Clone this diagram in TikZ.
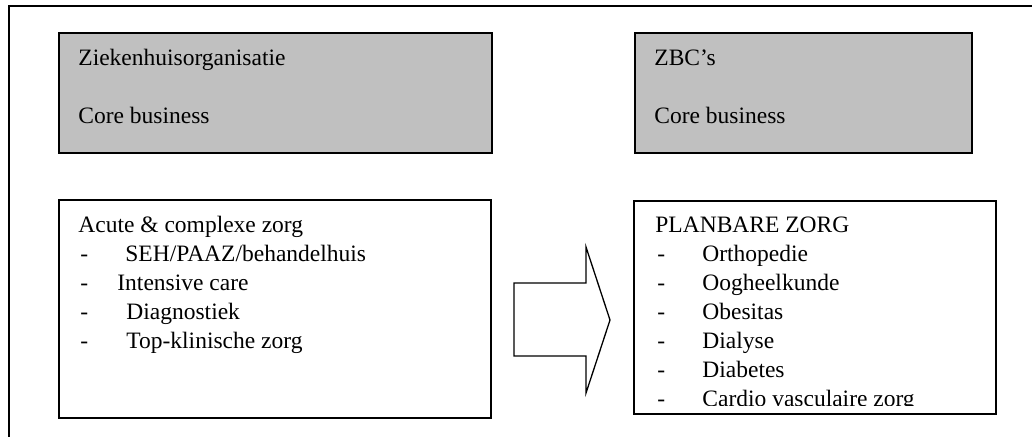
\documentclass[tikz,border=0pt]{standalone}
\usepackage{fontspec}
\setmainfont{Liberation Serif}
\definecolor{boxgray}{HTML}{C0C0C0}
\begin{document}
\begin{tikzpicture}[x=0.5pt,y=-0.5pt,
  box/.style={draw=black, line width=0.9pt, anchor=north west, inner sep=0pt},
  graybox/.style={box, fill=boxgray},
  txt/.style={anchor=base west, inner sep=0pt, font=\fontsize{11.75}{14.5}\selectfont}]
\useasboundingbox (0,0) rectangle (1032,436);
% outer frame (open at right and bottom)
\draw[line width=1pt] (9,445) -- (9,6) -- (1040,6);
% boxes
\node[graybox, minimum width=216.5pt, minimum height=60pt] (zh) at (58,32) {};
\node[graybox, minimum width=168.5pt, minimum height=60pt] (zbc) at (634,32) {};
\node[box, minimum width=216pt, minimum height=109pt] (acute) at (58,199) {};
\node[box, minimum width=181pt, minimum height=106.5pt] (plan) at (633,200) {};
% block arrow
\draw[line width=0.65pt, line join=miter] (514,283) -- (586,283) -- (586,247) -- (610,320)
  -- (586,393) -- (586,356) -- (514,356) -- cycle;
% gray box texts
\node[txt] (t1) at (78,65) {Ziekenhuisorganisatie};
\node[txt] (t2) at (78,123) {Core business};
\node[txt] (t3) at (654,65) {ZBC’s};
\node[txt] (t4) at (654,123) {Core business};
% left list
\node[txt] (a0) at (78,232) {Acute \& complexe zorg};
\node[txt] (ad1) at (80,261) {-};
\node[txt] (ad2) at (80,290) {-};
\node[txt] (ad3) at (80,319) {-};
\node[txt] (ad4) at (80,348) {-};
\node[txt] (a1) at (125,261) {SEH/PAAZ/behandelhuis};
\node[txt] (a2) at (117,290) {Intensive care};
\node[txt] (a3) at (126,319) {Diagnostiek};
\node[txt] (a4) at (126,348) {Top-klinische zorg};
% right list (clipped at its last line, as in the original)
\begin{scope}
\clip (634,201) rectangle (994,405.5);
\node[txt] (p0) at (655,232) {PLANBARE ZORG};
\node[txt] (pd1) at (657,261) {-};
\node[txt] (pd2) at (657,290) {-};
\node[txt] (pd3) at (657,319) {-};
\node[txt] (pd4) at (657,348) {-};
\node[txt] (pd5) at (657,377) {-};
\node[txt] (pd6) at (657,406) {-};
\node[txt] (p1) at (702,261) {Orthopedie};
\node[txt] (p2) at (702,290) {Oogheelkunde};
\node[txt] (p3) at (702,319) {Obesitas};
\node[txt] (p4) at (702,348) {Dialyse};
\node[txt] (p5) at (702,377) {Diabetes};
\node[txt] (p6) at (702,406) {Cardio vasculaire zorg};
\end{scope}
\end{tikzpicture}
\end{document}
